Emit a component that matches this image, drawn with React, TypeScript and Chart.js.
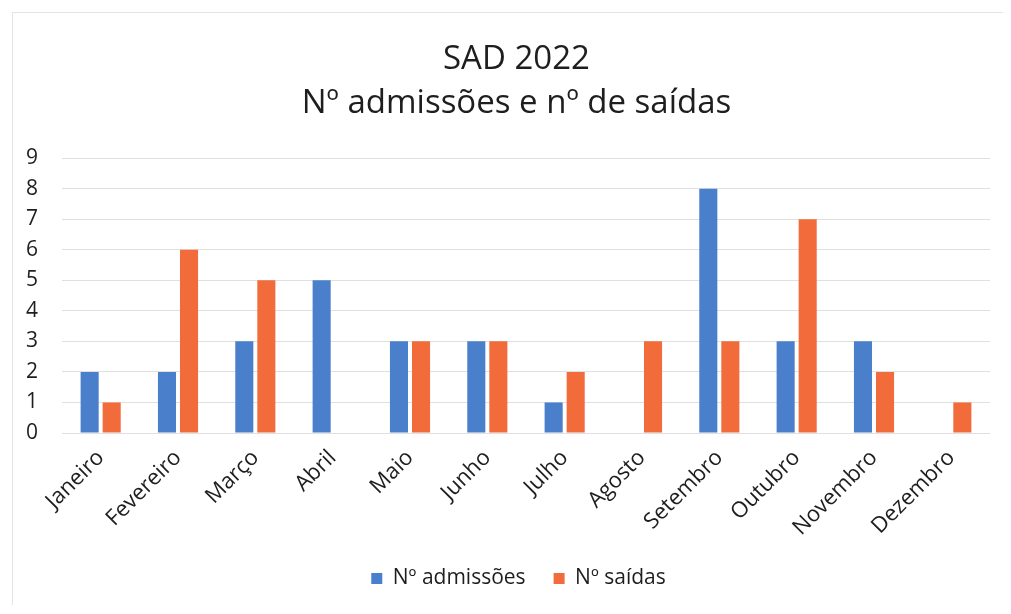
import React, { useEffect, useRef } from "react";
import { Chart, registerables } from "chart.js";

Chart.register(...registerables);

const categories = [
  "Janeiro", "Fevereiro", "Março", "Abril", "Maio", "Junho",
  "Julho", "Agosto", "Setembro", "Outubro", "Novembro", "Dezembro",
];
const admissoes = [2, 2, 3, 5, 3, 3, 1, 0, 8, 3, 3, 0];
const saidas = [1, 6, 5, 0, 3, 3, 2, 3, 3, 7, 2, 1];
const titleLines = ["SAD 2022", "Nº admissões e nº de saídas"];
const seriesNames = ["Nº admissões", "Nº saídas"];

const FONT = "'Open Sans', 'Liberation Sans', sans-serif";

const shiftBoxes = {
  id: "shiftBoxes",
  afterLayout(chart: any) {
    const l = chart.legend;
    if (l) { l.left += 16; l.right += 16; }
    const t = chart.titleBlock;
    if (t) { t.left += 14; t.right += 14; }
  },
};

export default function App() {
  const ref = useRef<HTMLCanvasElement>(null);
  useEffect(() => {
    if (!ref.current) return;
    const chart = new Chart(ref.current, {
      type: "bar",
      data: {
        labels: categories,
        datasets: [
          { label: seriesNames[0], data: admissoes, backgroundColor: "#4a7fcb" },
          { label: seriesNames[1], data: saidas, backgroundColor: "#f26b3a" },
        ],
      },
      plugins: [shiftBoxes],
      options: {
        animation: false,
        responsive: false,
        maintainAspectRatio: false,
        datasets: { bar: { categoryPercentage: 0.57, barPercentage: 0.82 } },
        layout: { padding: { left: 15, right: 21, top: 12, bottom: 15 } },
        plugins: {
          title: {
            display: true,
            text: titleLines,
            color: "#1e1e1e",
            font: { family: FONT, size: 33, weight: "normal", lineHeight: 1.35 },
            padding: { top: 25, bottom: 32 },
          },
          legend: {
            position: "bottom",
            labels: {
              color: "#1e1e1e",
              font: { family: FONT, size: 21 },
              boxWidth: 11,
              boxHeight: 11,
              padding: 28,
            },
          },
          tooltip: { enabled: false },
        },
        scales: {
          x: {
            grid: { display: false },
            border: { display: false },
            afterFit: (s: any) => { s.height = 107; },
            ticks: {
              color: "#1e1e1e",
              font: { family: FONT, size: 22 },
              minRotation: 45,
              maxRotation: 45,
              padding: 4,
            },
          },
          y: {
            min: 0,
            max: 9,
            grid: { color: "#e0e0e0", drawTicks: false },
            border: { display: false },
            afterFit: (s: any) => { s.width = 47; },
            ticks: {
              stepSize: 1,
              color: "#1e1e1e",
              font: { family: FONT, size: 21 },
              padding: 24,
            },
          },
        },
      },
    });
    return () => chart.destroy();
  }, []);
  return (
    <div style={{ position: "absolute", left: 0, top: 0, width: 1011, height: 614, background: "#fff" }}>
      <div style={{ position: "absolute", left: 12, top: 12, width: 990, height: 592, borderLeft: "1px solid #e4e4e4", borderTop: "1px solid #e4e4e4" }} />
      <canvas ref={ref} width={1011} height={614} style={{ position: "absolute", left: 0, top: 0 }} />
    </div>
  );
}
